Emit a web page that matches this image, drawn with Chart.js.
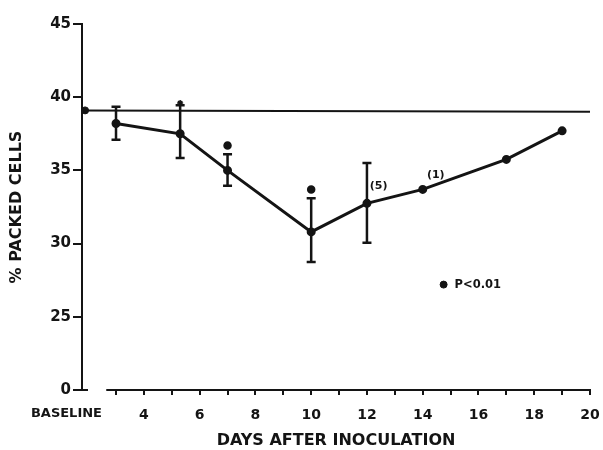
<!DOCTYPE html>
<html><head><meta charset="utf-8">
<script src="https://cdn.jsdelivr.net/npm/chart.js@4.4.0/dist/chart.umd.min.js"></script>
<style>html,body{margin:0;padding:0;background:#fff}#wrap{width:603px;height:450px}</style>
</head><body><div id="wrap"><canvas id="c" width="603" height="450"></canvas></div>
<script>
// ---- data ----
const baselineDay = 1.89;
const baselineValue = 39.1;
const referenceEndDay = 20;
const referenceEndValue = 39.0;
const days = [3, 5.3, 7, 10, 12, 14, 17, 19];
const packedCells = [38.2, 37.5, 35.0, 30.8, 32.75, 33.7, 35.75, 37.7];
const errUpper = [39.35, 39.45, 36.1, 33.1, 35.5, null, null, null];
const errLower = [37.1, 35.85, 33.95, 28.75, 30.05, null, null, null];
const sigDays = [5.3, 7, 10];
const sigValues = [39.6, 36.7, 33.7];
const sigStyles = ['star', 'circle', 'circle'];
const sigRadii = [3, 3.5, 3.5];
const noteDays = [12.1, 14.15];
const noteValues = [33.95, 34.7];
const noteTexts = ['(5)', '(1)'];
const legendDay = 14.75;
const legendValue = 27.2;
const legendText = 'P<0.01';
const xTickValues = [3, 4, 5, 6, 7, 8, 9, 10, 11, 12, 13, 14, 15, 16, 17, 18, 19, 20];
const xTickLabels = ['', '4', '', '6', '', '8', '', '10', '', '12', '', '14', '', '16', '', '18', '', '20'];
const baselineLabel = 'BASELINE';
const yTickValues = [20, 25, 30, 35, 40, 45];
const yTickLabels = ['0', '25', '30', '35', '40', '45'];
const xTitle = 'DAYS AFTER INOCULATION';
const yTitle = '% PACKED CELLS';
const xMin = 1.78, xMax = 20, yMin = 20, yMax = 45;
const xAxisStartDay = 2.65;

const ink = '#141414';
const FAM = '"DejaVu Sans", sans-serif';

const overlay = {
  id: 'overlay',
  afterDatasetsDraw(chart) {
    const {ctx, chartArea, scales: {x, y}} = chart;
    ctx.save();
    ctx.strokeStyle = ink;
    ctx.lineWidth = 2.5;
    days.forEach((d, i) => {
      if (errUpper[i] == null) return;
      const px = x.getPixelForValue(d);
      const t = y.getPixelForValue(errUpper[i]);
      const b = y.getPixelForValue(errLower[i]);
      ctx.beginPath();
      ctx.moveTo(px, t); ctx.lineTo(px, b);
      ctx.moveTo(px - 4.5, t); ctx.lineTo(px + 4.5, t);
      ctx.moveTo(px - 4.5, b); ctx.lineTo(px + 4.5, b);
      ctx.stroke();
    });
    // detached x axis line
    ctx.lineWidth = 2;
    const yb = chartArea.bottom;
    ctx.beginPath();
    ctx.moveTo(x.getPixelForValue(xAxisStartDay), yb);
    ctx.lineTo(x.getPixelForValue(xMax) + 1, yb);
    ctx.stroke();
    // zero tick continues right of the y axis
    const y0 = y.getPixelForValue(yMin);
    ctx.beginPath();
    ctx.moveTo(chartArea.left, y0); ctx.lineTo(chartArea.left + 6, y0);
    ctx.stroke();
    // texts
    ctx.fillStyle = ink;
    ctx.font = 'bold 11px ' + FAM;
    ctx.textBaseline = 'middle';
    ctx.textAlign = 'left';
    noteDays.forEach((d, i) => {
      ctx.fillText(noteTexts[i], x.getPixelForValue(d), y.getPixelForValue(noteValues[i]));
    });
    ctx.font = 'bold 11.5px ' + FAM;
    ctx.fillText(legendText, x.getPixelForValue(legendDay) + 11, y.getPixelForValue(legendValue));
    ctx.font = 'bold 13px ' + FAM;
    ctx.textAlign = 'right';
    ctx.fillText(baselineLabel, chartArea.left + 20, chartArea.bottom + 24);
    ctx.restore();
  }
};

new Chart(document.getElementById('c'), {
  type: 'line',
  data: {
    datasets: [
      {
        data: [{x: xMin, y: baselineValue}, {x: referenceEndDay, y: referenceEndValue}],
        borderColor: ink, borderWidth: 2, pointRadius: 0, tension: 0
      },
      {
        data: [{x: baselineDay, y: baselineValue}],
        showLine: false, pointRadius: 3.5, pointBackgroundColor: ink, pointBorderColor: ink
      },
      {
        data: days.map((d, i) => ({x: d, y: packedCells[i]})),
        borderColor: ink, borderWidth: 3, tension: 0,
        pointRadius: 3, pointBackgroundColor: ink, pointBorderColor: ink
      },
      {
        data: sigDays.map((d, i) => ({x: d, y: sigValues[i]})),
        showLine: false, pointStyle: sigStyles, pointRadius: sigRadii,
        pointBackgroundColor: ink, pointBorderColor: ink, pointBorderWidth: 1.5
      },
      {
        data: [{x: legendDay, y: legendValue}],
        showLine: false, pointRadius: 3.5, pointBackgroundColor: ink, pointBorderColor: ink
      }
    ]
  },
  options: {
    responsive: false,
    devicePixelRatio: 1,
    animation: false,
    layout: {padding: {top: 24, right: 13, left: 0, bottom: 0}},
    plugins: {legend: {display: false}, tooltip: {enabled: false}},
    scales: {
      x: {
        type: 'linear', min: xMin, max: xMax,
        afterBuildTicks: s => { s.ticks = xTickValues.map(v => ({value: v})); },
        afterFit: s => { s.height = 60; s.paddingLeft = 0; s.paddingRight = 0; },
        ticks: {
          autoSkip: false, maxRotation: 0, padding: 12, color: ink,
          font: {family: FAM, size: 14, weight: 'bold'},
          callback: (v, i) => xTickLabels[i]
        },
        grid: {drawOnChartArea: false, drawTicks: true, tickLength: 5, color: ink, lineWidth: 2},
        border: {display: false},
        title: {display: true, text: xTitle, color: ink,
          font: {family: FAM, size: 16, weight: 'bold'}, padding: {top: 0, bottom: 0}}
      },
      y: {
        min: yMin, max: yMax,
        afterBuildTicks: s => { s.ticks = yTickValues.map(v => ({value: v})); },
        afterFit: s => { s.width = 82; },
        ticks: {
          padding: 2, color: ink,
          font: {family: FAM, size: 15, weight: 'bold'},
          callback: (v, i) => yTickLabels[i]
        },
        grid: {drawOnChartArea: false, drawTicks: true, tickLength: 9, color: ink, lineWidth: 2},
        border: {display: true, color: ink, width: 2},
        title: {display: true, text: yTitle, color: ink,
          font: {family: FAM, size: 16, weight: 'bold'}, padding: {top: 7, bottom: 0}}
      }
    }
  },
  plugins: [overlay]
});
</script>
</body></html>
